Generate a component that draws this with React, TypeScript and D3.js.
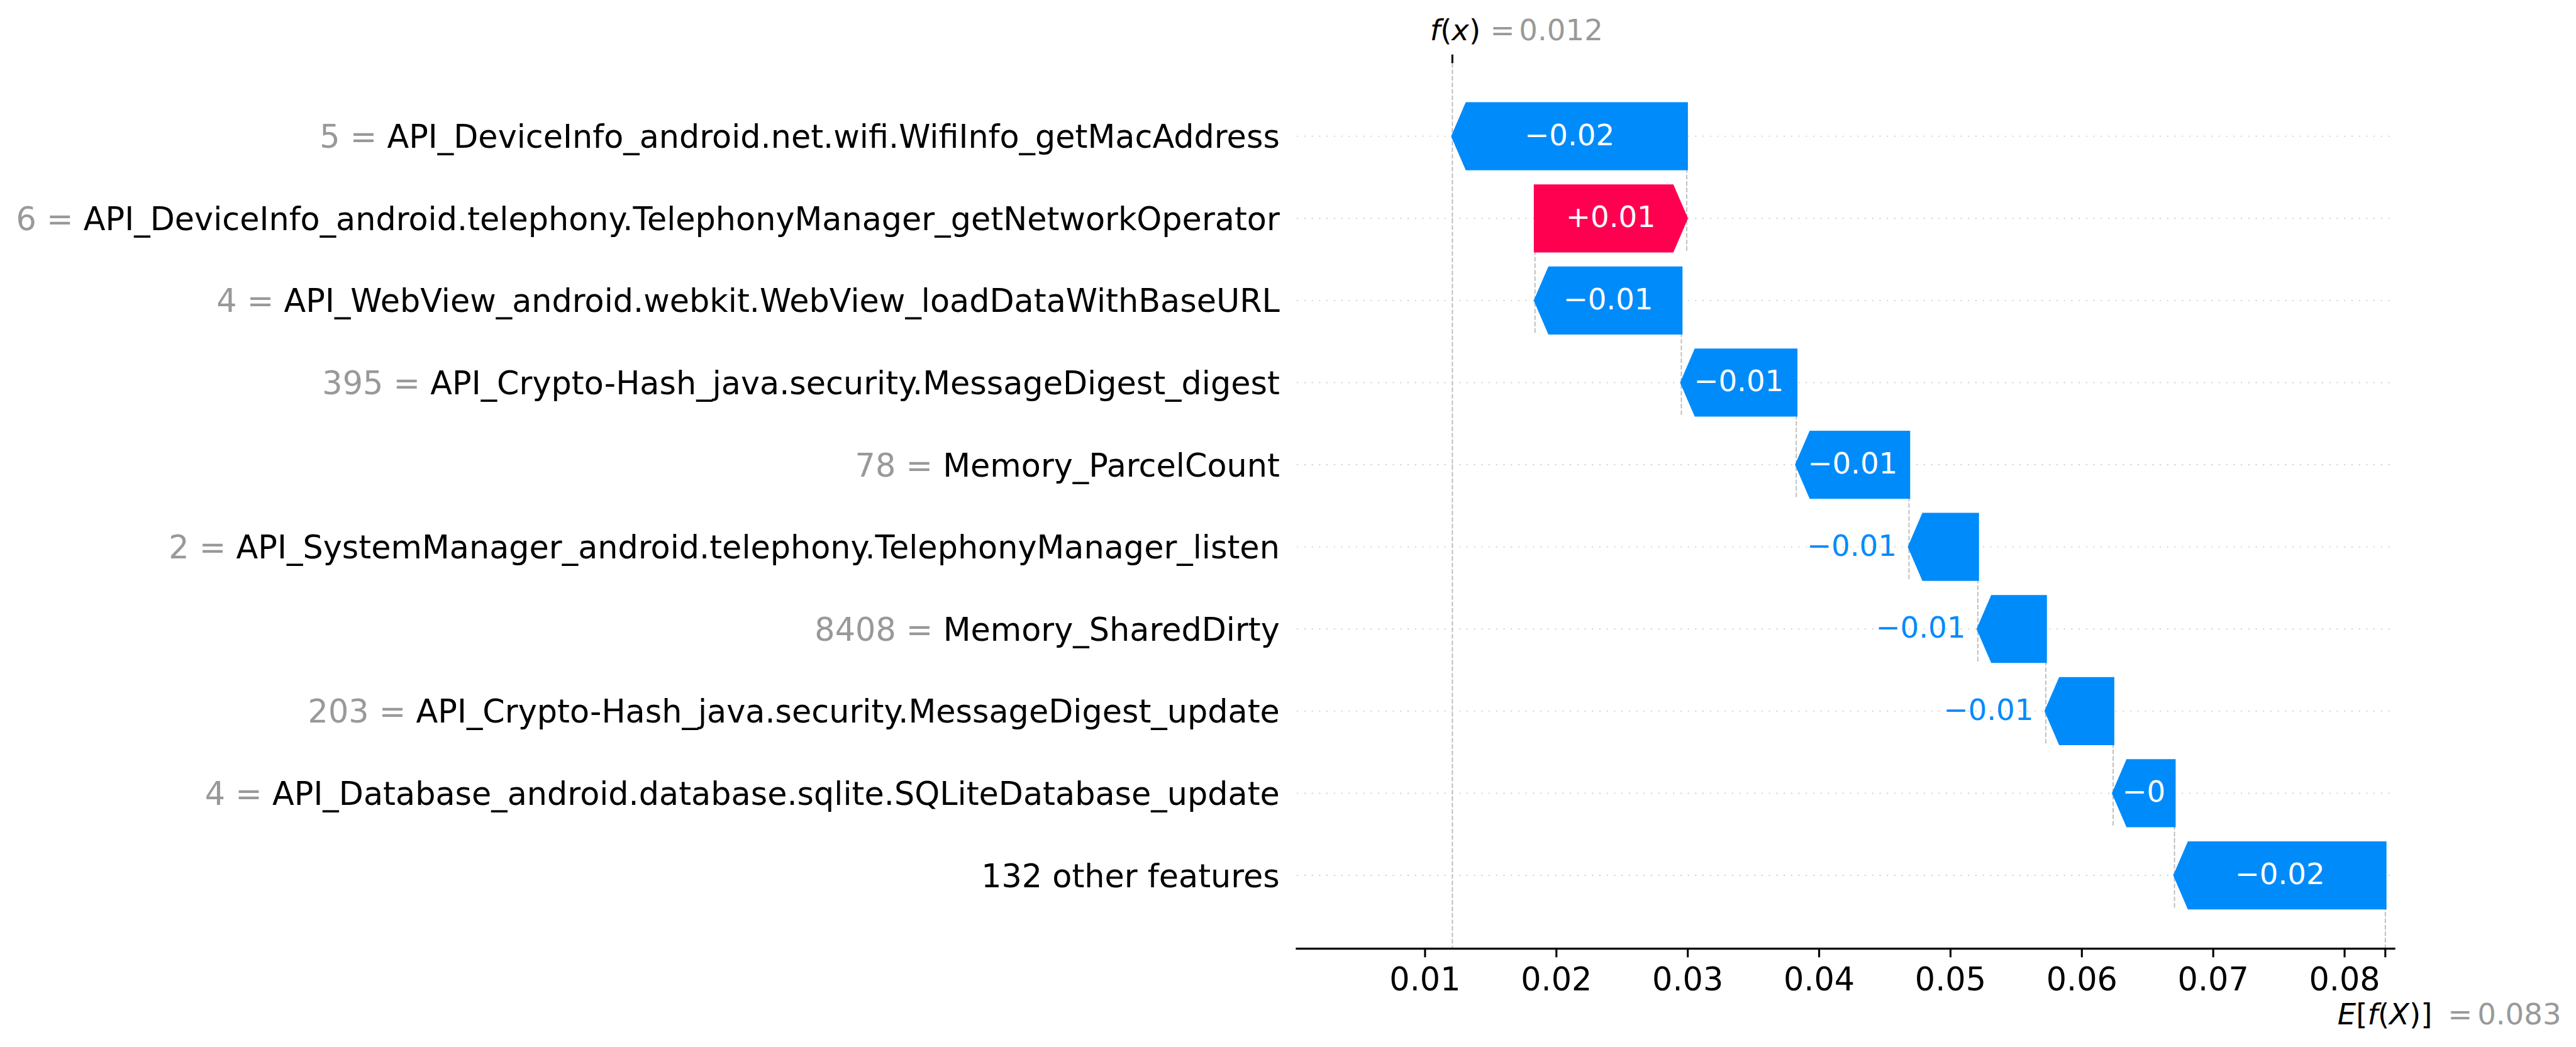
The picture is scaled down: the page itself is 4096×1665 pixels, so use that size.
import React, { useMemo } from 'react';
import * as d3 from 'd3';

// feature rows, top to bottom
const featureValues = [5, 6, 4, 395, 78, 2, 8408, 203, 4];
const featureNames = [
  'API_DeviceInfo_android.net.wifi.WifiInfo_getMacAddress',
  'API_DeviceInfo_android.telephony.TelephonyManager_getNetworkOperator',
  'API_WebView_android.webkit.WebView_loadDataWithBaseURL',
  'API_Crypto-Hash_java.security.MessageDigest_digest',
  'Memory_ParcelCount',
  'API_SystemManager_android.telephony.TelephonyManager_listen',
  'Memory_SharedDirty',
  'API_Crypto-Hash_java.security.MessageDigest_update',
  'API_Database_android.database.sqlite.SQLiteDatabase_update',
];
const shapValues = [-0.01784, 0.01155, -0.01114, -0.00875, -0.00858, -0.00524, -0.00517, -0.00513, -0.00467];
const otherCount = 132;
const otherValue = -0.01605;
const baseValue = 0.0831;
const xTicks = [0.01, 0.02, 0.03, 0.04, 0.05, 0.06, 0.07, 0.08];

const RED = '#ff0051';
const BLUE = '#008bfb';
const FONT = '"DejaVu Sans", sans-serif';
const TICK_FS = 54.2;
const BAR_FS = 49.7;

const W = 4366;
const H = 1775;

const fmt = (v: number, digits: number, plus = false) => {
  let s = v.toFixed(digits);
  if (plus && v >= 0) s = '+' + s;
  if (s.includes('.')) s = s.replace(/0+$/, '').replace(/\.$/, '');
  return s.replace('-', '\u2212');
};

let ctx: CanvasRenderingContext2D | null = null;
const textWidth = (s: string, fs: number) => {
  if (!ctx) ctx = document.createElement('canvas').getContext('2d');
  if (!ctx) return s.length * fs * 0.6;
  ctx.font = `${fs}px "DejaVu Sans"`;
  return ctx.measureText(s).width;
};

export default function App() {
  const margin = { left: 2196.2, right: 4060, top: 107, bottom: 1608.3 };

  const x = d3.scaleLinear().domain([0.00016, 0.08386]).range([margin.left, margin.right]);

  const rowKeys = d3.range(featureNames.length + 1);
  const y = d3.scalePoint<number>().domain(rowKeys).range([231, 1484]);
  const step = y.step();
  const halfBar = 0.4 * step;
  const headPx = 24;
  const labelRight = 2169;

  // walk up from the base value: "other" row first, then individual rows bottom to top
  const bars = useMemo(() => {
    const out: { row: number; start: number; value: number }[] = [];
    let pos = baseValue;
    out.push({ row: featureNames.length, start: pos, value: otherValue });
    pos += otherValue;
    for (let i = shapValues.length - 1; i >= 0; i--) {
      out.push({ row: i, start: pos, value: shapValues[i] });
      pos += shapValues[i];
    }
    return out;
  }, []);

  const fx = baseValue + otherValue + d3.sum(shapValues);

  const arrowPath = (start: number, value: number, cy: number) => {
    const s = x(start);
    const t = x(start + value);
    const dir = value >= 0 ? 1 : -1;
    const hl = Math.min(Math.abs(t - s), headPx);
    const b = t - dir * hl;
    return `M${s},${cy - halfBar}L${b},${cy - halfBar}L${t},${cy}L${b},${cy + halfBar}L${s},${cy + halfBar}Z`;
  };

  return (
    <div style={{ position: 'absolute', left: 0, top: 0, background: '#fff' }}>
      <svg width={4096} height={1665} viewBox={`0 0 ${W} ${H}`} style={{ display: 'block' }} fontFamily={FONT}>
        <rect width={W} height={H} fill="#fff" />

        {/* dotted row guides */}
        {rowKeys.map(r => (
          <line key={`g${r}`} x1={margin.left + 2} x2={margin.right} y1={y(r)} y2={y(r)}
            stroke="#cccccc" strokeWidth={2} strokeDasharray="2 10.5" />
        ))}

        {/* f(x) line */}
        <line x1={x(fx)} x2={x(fx)} y1={margin.top} y2={margin.bottom} stroke="#bbbbbb" strokeWidth={2} strokeDasharray="7.7 3.3" />
        {/* E[f(X)] line */}
        <line x1={x(baseValue)} x2={x(baseValue)} y1={margin.bottom - (margin.bottom - margin.top) / rowKeys.length} y2={margin.bottom}
          stroke="#bbbbbb" strokeWidth={2} strokeDasharray="7.7 3.3" />

        {/* connectors at each individual bar start */}
        {bars.filter(b => b.row < featureNames.length).map(b => (
          <line key={`c${b.row}`} x1={x(b.start)} x2={x(b.start)}
            y1={(y(b.row) as number) - halfBar} y2={(y(b.row + 1) as number) + halfBar}
            stroke="#bbbbbb" strokeWidth={2} strokeDasharray="7.7 3.3" />
        ))}

        {/* arrows */}
        {bars.map(b => {
          const cy = y(b.row) as number;
          const col = b.value >= 0 ? RED : BLUE;
          return (
            <path key={`a${b.row}`} d={arrowPath(b.start, b.value, cy)} fill={col} stroke={col} strokeWidth={4} strokeLinejoin="miter" />
          );
        })}

        {/* arrow labels */}
        {bars.map(b => {
          const cy = y(b.row) as number;
          const label = fmt(b.value, 2, true);
          const s = x(b.start);
          const t = x(b.start + b.value);
          const inside = textWidth(label, BAR_FS) <= Math.abs(t - s) + 4;
          const pos = b.value >= 0;
          if (inside) {
            return (
              <text key={`l${b.row}`} x={(s + t) / 2} y={cy + 0.3 * BAR_FS} fontSize={BAR_FS} fill="#fff" textAnchor="middle">{label}</text>
            );
          }
          return (
            <text key={`l${b.row}`} x={pos ? t + 20.8 : t - 20.8} y={cy + 0.3 * BAR_FS} fontSize={BAR_FS}
              fill={pos ? RED : BLUE} textAnchor={pos ? 'start' : 'end'}>{label}</text>
          );
        })}

        {/* y tick labels */}
        {featureNames.map((name, i) => (
          <text key={`y${i}`} x={labelRight} y={(y(i) as number) + 0.364 * TICK_FS} fontSize={TICK_FS} textAnchor="end" style={{ whiteSpace: 'pre' }}>
            <tspan fill="#999999">{`${fmt(featureValues[i], 3)} = `}</tspan>
            <tspan fill="#000">{name}</tspan>
          </text>
        ))}
        <text x={labelRight} y={(y(featureNames.length) as number) + 0.364 * TICK_FS} fontSize={TICK_FS} textAnchor="end" fill="#000">
          {`${otherCount} other features`}
        </text>

        {/* bottom axis */}
        <line x1={margin.left} x2={margin.right} y1={margin.bottom} y2={margin.bottom} stroke="#000" strokeWidth={3.3} />
        {[...xTicks, baseValue].map((t, i) => (
          <line key={`t${i}`} x1={x(t)} x2={x(t)} y1={margin.bottom} y2={margin.bottom + 14.6} stroke="#000" strokeWidth={3.3} />
        ))}
        {xTicks.map(t => (
          <text key={`tl${t}`} x={x(t)} y={1679} fontSize={TICK_FS} textAnchor="middle" fill="#000">{t.toFixed(2)}</text>
        ))}

        {/* E[f(X)] label */}
        <text x={x(baseValue) - 81} y={1737} fontSize={BAR_FS} fill="#000">
          <tspan fontStyle="italic">E</tspan><tspan>[</tspan><tspan fontStyle="italic">f</tspan><tspan>(</tspan>
          <tspan fontStyle="italic">X</tspan><tspan>)]</tspan>
        </text>
        <text x={x(baseValue) + 106} y={1737} fontSize={BAR_FS} fill="#999999">=</text>
        <text x={x(baseValue) + 156} y={1737} fontSize={BAR_FS} fill="#999999">{fmt(baseValue, 3)}</text>

        {/* f(x) tick and label */}
        <line x1={x(fx)} x2={x(fx)} y1={margin.top - 14.6} y2={margin.top} stroke="#000" strokeWidth={3.3} />
        <text x={x(fx) - 38} y={68} fontSize={BAR_FS} fill="#000">
          <tspan fontStyle="italic">f</tspan><tspan>(</tspan><tspan fontStyle="italic">x</tspan><tspan>)</tspan>
        </text>
        <text x={x(fx) + 64} y={68} fontSize={BAR_FS} fill="#999999">=</text>
        <text x={x(fx) + 113} y={68} fontSize={BAR_FS} fill="#999999">{fmt(fx, 3)}</text>
      </svg>
    </div>
  );
}
